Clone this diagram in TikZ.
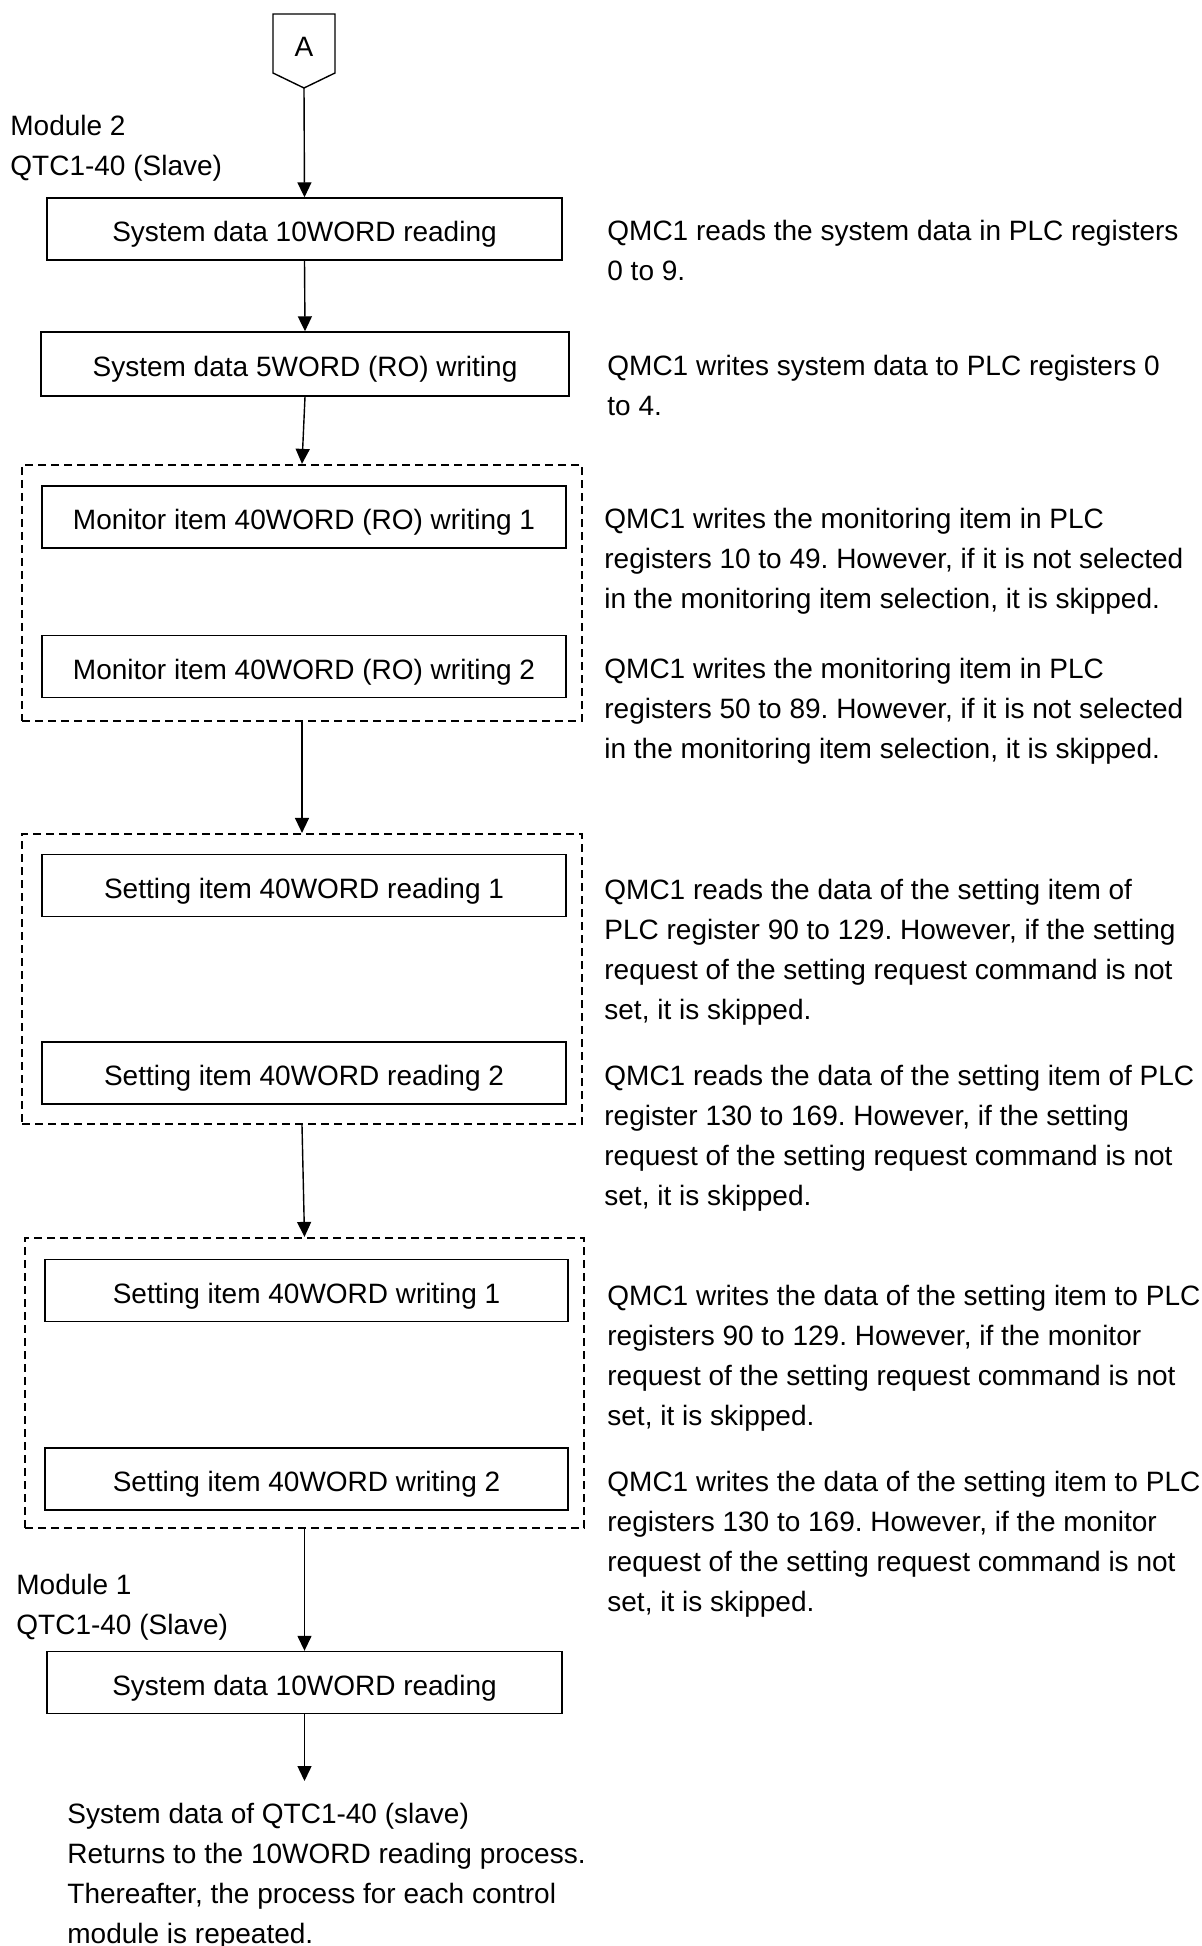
\documentclass[tikz,border=0pt]{standalone}
\usepackage{fontspec}
\setmainfont{Liberation Sans}
\usetikzlibrary{arrows.meta}
\begin{document}
\frenchspacing
\begin{tikzpicture}[x=0.5pt,y=-0.5pt,
  txt/.style={font=\fontsize{14pt}{20pt}\selectfont},
  box/.style={txt,draw,line width=0.7pt,minimum height=31pt,inner sep=0pt,text height=12.5pt,text depth=0pt},
  grp/.style={draw,dash pattern=on 4pt off 2.5pt,line width=1.1pt,inner sep=0pt},
  note/.style={txt,anchor=north west,inner sep=0pt,align=left},
  flow/.style={-{Triangle[length=7.5pt,width=7pt]},line width=0.7pt}
]
\useasboundingbox[fill=white] (0,0) rectangle (1202,1946);

% off-page connector
\draw[line width=0.7pt] (273,14) -- (335,14) -- (335,73) -- (304,88) -- (273,73) -- cycle;
\node[txt,inner sep=0pt,text height=10pt,text depth=0pt] (A) at (304,47) {A};
\coordinate (Aout) at (304,88);

% module labels
\node[note] (m2) at (10,107) {\strut Module 2\\QTC1-40 (Slave)};
\node[note] (m1) at (16,1566) {\strut Module 1\\QTC1-40 (Slave)};

% boxes
\node[box,minimum width=257.5pt] (b1) at (304.5,229) {System data 10WORD reading};
\node[box,minimum width=264pt,minimum height=32pt] (b2) at (305,364) {System data 5WORD (RO) writing};

\node[grp,minimum width=280pt,minimum height=128pt] (g1) at (302,593) {};
\node[box,minimum width=262pt] (b3) at (304,517) {Monitor item 40WORD (RO) writing 1};
\node[box,minimum width=262pt] (b4) at (304,666.5) {Monitor item 40WORD (RO) writing 2};

\node[grp,minimum width=280pt,minimum height=145pt] (g2) at (302,979) {};
\node[box,minimum width=262pt] (b5) at (304,885.5) {Setting item 40WORD reading 1};
\node[box,minimum width=262pt] (b6) at (304,1073) {Setting item 40WORD reading 2};

\node[grp,minimum width=279.5pt,minimum height=145pt] (g3) at (304.5,1383) {};
\node[box,minimum width=261.5pt] (b7) at (306.5,1290.5) {Setting item 40WORD writing 1};
\node[box,minimum width=261.5pt] (b8) at (306.5,1479) {Setting item 40WORD writing 2};

\node[box,minimum width=257.5pt] (b9) at (304.5,1682.5) {System data 10WORD reading};
\coordinate (endpt) at (304.5,1781);

% connectors
\draw[flow] (Aout) -- (b1.north);
\draw[flow] (b1.south) -- (b2.north);
\draw[flow] (b2.south) -- (g1.north);
\draw[flow] (g1.south) -- (g2.north);
\draw[flow] (g2.south) -- (g3.north);
\draw[flow] (g3.south) -- (b9.north);
\draw[flow] (b9.south) -- (endpt);

% notes
\node[note] (t1) at (607,212) {\strut QMC1 reads the system data in PLC registers\\0 to 9.};
\node[note] (t2) at (607,347) {\strut QMC1 writes system data to PLC registers 0\\to 4.};
\node[note] (t3) at (604,500) {\strut QMC1 writes the monitoring item in PLC\\registers 10 to 49. However, if it is not selected\\in the monitoring item selection, it is skipped.};
\node[note] (t4) at (604,650) {\strut QMC1 writes the monitoring item in PLC\\registers 50 to 89. However, if it is not selected\\in the monitoring item selection, it is skipped.};
\node[note] (t5) at (604,871) {\strut QMC1 reads the data of the setting item of\\PLC register 90 to 129. However, if the setting\\request of the setting request command is not\\set, it is skipped.};
\node[note] (t6) at (604,1057) {\strut QMC1 reads the data of the setting item of PLC\\register 130 to 169. However, if the setting\\request of the setting request command is not\\set, it is skipped.};
\node[note] (t7) at (607,1277) {\strut QMC1 writes the data of the setting item to PLC\\registers 90 to 129. However, if the monitor\\request of the setting request command is not\\set, it is skipped.};
\node[note] (t8) at (607,1463) {\strut QMC1 writes the data of the setting item to PLC\\registers 130 to 169. However, if the monitor\\request of the setting request command is not\\set, it is skipped.};

\node[note] (bt) at (67,1795) {\strut System data of QTC1-40 (slave)\\Returns to the 10WORD reading process.\\Thereafter, the process for each control\\module is repeated.};
\end{tikzpicture}
\end{document}
